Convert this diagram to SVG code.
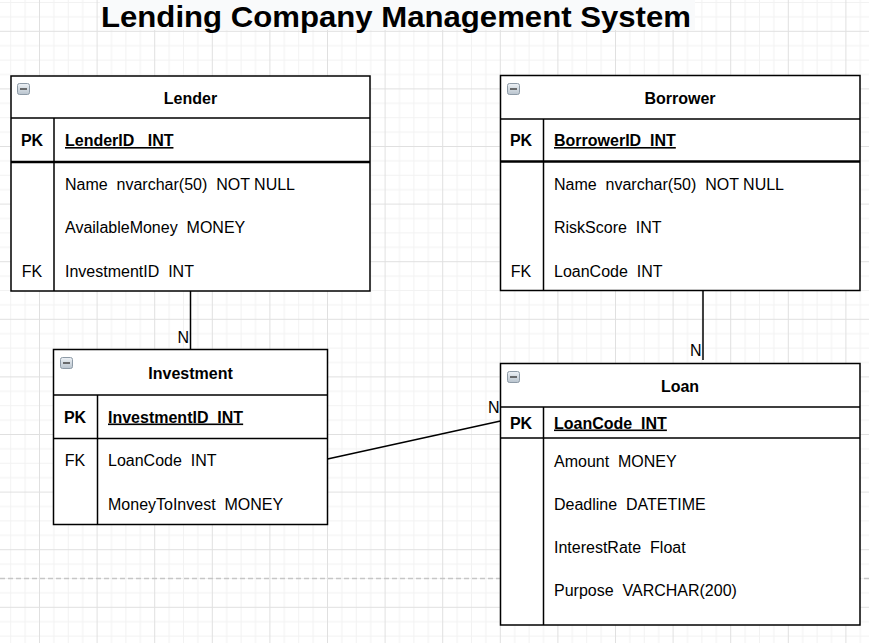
<svg xmlns="http://www.w3.org/2000/svg" width="869" height="643" viewBox="0 0 869 643">
<style>
.box{fill:#fff;stroke:#000;stroke-width:1.5}
.ln{stroke:#000;stroke-width:1.5;fill:none}
.hv{stroke:#000;stroke-width:2.5;fill:none}
.hd{font-family:"Liberation Sans",Arial,sans-serif;font-size:16px;font-weight:bold;text-anchor:middle;fill:#000}
.pk{font-family:"Liberation Sans",Arial,sans-serif;font-size:16px;font-weight:bold;fill:#000;white-space:pre}
.pkc{font-family:"Liberation Sans",Arial,sans-serif;font-size:16px;font-weight:bold;fill:#000;text-anchor:middle}
.at{font-family:"Liberation Sans",Arial,sans-serif;font-size:16px;fill:#000;white-space:pre}
.fk{font-family:"Liberation Sans",Arial,sans-serif;font-size:16px;fill:#000;text-anchor:middle}
.lbl{font-family:"Liberation Sans",Arial,sans-serif;font-size:16px;fill:#000;text-anchor:end}
.u{text-decoration:underline}
</style>
<defs>
<pattern id="grid" x="39" y="30.8" width="57.6" height="57.6" patternUnits="userSpaceOnUse">
<path d="M14.9 0V57.6M29.3 0V57.6M43.7 0V57.6M0 14.9H57.6M0 29.3H57.6M0 43.7H57.6" stroke="#f2f2f2" stroke-width="1"/>
<path d="M0.5 0V57.6M0 0.5H57.6" stroke="#e0e0e0" stroke-width="1"/>
</pattern>
<linearGradient id="ig" x1="0" y1="0" x2="0" y2="1">
<stop offset="0" stop-color="#eef2f6"/>
<stop offset="1" stop-color="#b8c3cd"/>
</linearGradient>
<g id="icon">
<rect x="0.5" y="0.5" width="12" height="11" rx="2" fill="url(#ig)" stroke="#8d9aa6" stroke-width="1"/>
<path d="M3 6H10" stroke="#444" stroke-width="1.5"/>
</g>
</defs>
<rect x="0" y="0" width="869" height="643" fill="#fff"/>
<rect x="0" y="0" width="869" height="643" fill="url(#grid)"/>
<path d="M0 578.5H869" stroke="#c6c6c6" stroke-width="1.5" stroke-dasharray="5 3"/>

<g id="title">
<rect x="100" y="-1" width="595" height="31" fill="#f9fafb"/>
<text x="101" y="26.5" font-family="'Liberation Sans',Arial,sans-serif" font-size="30" font-weight="bold" textLength="590" lengthAdjust="spacingAndGlyphs">Lending Company Management System</text>
</g>

<g id="connectors">
<path class="ln" d="M190.5 291V349.5"/>
<text class="lbl" x="189" y="343">N</text>
<path class="ln" d="M703 290.5V360"/>
<text class="lbl" x="701.5" y="356">N</text>
<path class="ln" d="M327.5 459L500.5 421"/>
<text class="lbl" x="499.5" y="413">N</text>
</g>

<g id="lender">
<rect class="box" x="11" y="76" width="359" height="215"/>
<path class="ln" d="M11 118H370M54 118V291"/>
<path class="hv" d="M11 162H370"/>
<use href="#icon" x="17" y="83"/>
<text class="hd" x="190.5" y="103.5">Lender</text>
<text class="pkc" x="32" y="146">PK</text>
<text class="pk u" x="65" y="146" xml:space="preserve">LenderID   INT</text>
<text class="at" x="65" y="189.5" xml:space="preserve">Name  nvarchar(50)  NOT NULL</text>
<text class="at" x="65" y="232.5" xml:space="preserve">AvailableMoney  MONEY</text>
<text class="fk" x="32" y="276.5">FK</text>
<text class="at" x="65" y="276.5" xml:space="preserve">InvestmentID  INT</text>
</g>

<g id="borrower">
<rect class="box" x="500.5" y="75.5" width="359.5" height="215"/>
<path class="ln" d="M500.5 119H860M543.5 119V290.5"/>
<path class="hv" d="M500.5 161.5H860"/>
<use href="#icon" x="507" y="83"/>
<text class="hd" x="680" y="103.5">Borrower</text>
<text class="pkc" x="521" y="146">PK</text>
<text class="pk u" x="554" y="146" xml:space="preserve">BorrowerID  INT</text>
<text class="at" x="554" y="189.5" xml:space="preserve">Name  nvarchar(50)  NOT NULL</text>
<text class="at" x="554" y="232.5" xml:space="preserve">RiskScore  INT</text>
<text class="fk" x="521" y="276.5">FK</text>
<text class="at" x="554" y="276.5" xml:space="preserve">LoanCode  INT</text>
</g>

<g id="investment">
<rect class="box" x="53.5" y="349.5" width="274" height="175"/>
<path class="ln" d="M53.5 395H327.5M53.5 438.5H327.5M97.5 395V524.5"/>
<use href="#icon" x="60" y="357"/>
<text class="hd" x="190.5" y="378.5">Investment</text>
<text class="pkc" x="75" y="422.5">PK</text>
<text class="pk u" x="108" y="422.5" xml:space="preserve">InvestmentID  INT</text>
<text class="fk" x="75" y="466">FK</text>
<text class="at" x="108" y="466" xml:space="preserve">LoanCode  INT</text>
<text class="at" x="108" y="509.5" xml:space="preserve">MoneyToInvest  MONEY</text>
</g>

<g id="loan">
<rect class="box" x="500.5" y="363.5" width="359.5" height="261.5"/>
<path class="ln" d="M500.5 407H860M500.5 438H860M543.5 407V625"/>
<use href="#icon" x="507" y="371"/>
<text class="hd" x="680" y="391.5">Loan</text>
<text class="pkc" x="521" y="428.5">PK</text>
<text class="pk u" x="554" y="428.5" xml:space="preserve">LoanCode  INT</text>
<text class="at" x="554" y="466.5" xml:space="preserve">Amount  MONEY</text>
<text class="at" x="554" y="509.5" xml:space="preserve">Deadline  DATETIME</text>
<text class="at" x="554" y="552.5" xml:space="preserve">InterestRate  Float</text>
<text class="at" x="554" y="595.5" xml:space="preserve">Purpose  VARCHAR(200)</text>
</g>
</svg>
